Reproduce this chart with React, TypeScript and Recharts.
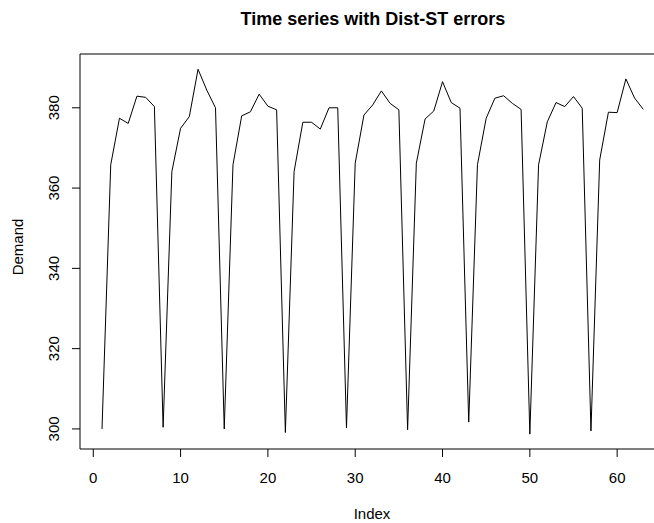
import { LineChart, Line, XAxis, YAxis, ReferenceArea } from 'recharts'

const demand = [
  300.0, 365.8, 377.4, 376.1, 382.9, 382.6, 380.3,
  300.4, 364.1, 374.9, 377.8, 389.6, 384.4, 380.0,
  300.0, 365.8, 378.0, 379.0, 383.4, 380.4, 379.5,
  299.1, 364.1, 376.4, 376.4, 374.7, 380.0, 380.0,
  300.3, 366.2, 378.2, 380.7, 384.2, 381.1, 379.5,
  299.8, 366.2, 377.2, 379.2, 386.5, 381.3, 379.9,
  301.7, 365.8, 377.4, 382.4, 383.0, 381.1, 379.6,
  298.7, 365.8, 376.5, 381.3, 380.3, 382.8, 379.9,
  299.5, 367.0, 378.9, 378.8, 387.2, 382.4, 379.6
]
const index = demand.map((_, i) => i + 1)
const xTicks = [0, 10, 20, 30, 40, 50, 60]
const yTicks = [300, 320, 340, 360, 380]

const data = index.map((idx, i) => ({ index: idx, demand: demand[i] }))

const FONT = "'Liberation Sans', Arial, sans-serif"
const X_DOMAIN: [number, number] = [-1.52, 65.48]
const Y_DOMAIN: [number, number] = [295, 393.4]

const YTick = ({ y, payload }: any) => (
  <text
    x={59}
    y={y}
    transform={`rotate(-90 59 ${y})`}
    textAnchor='middle'
    fontSize={15}
    fontFamily={FONT}
    fill='#000'
  >
    {payload.value}
  </text>
)

export default function App () {
  return (
    <div style={{ position: 'absolute', left: 0, top: 0, width: 654, height: 523, overflow: 'hidden', background: '#fff' }}>
      <LineChart
        width={666}
        height={523}
        data={data}
        margin={{ top: 54, right: 1, bottom: 0, left: 0 }}
      >
        <XAxis
          dataKey='index'
          type='number'
          domain={X_DOMAIN}
          ticks={xTicks}
          allowDataOverflow
          height={74}
          axisLine={false}
          tickSize={8}
          tickMargin={15}
          tickLine={{ stroke: '#000' }}
          tick={{ fontSize: 15, fontFamily: FONT, fill: '#000' }}
        />
        <YAxis
          type='number'
          domain={Y_DOMAIN}
          ticks={yTicks}
          allowDataOverflow
          width={80}
          axisLine={false}
          tickSize={8}
          tickLine={{ stroke: '#000' }}
          tick={<YTick />}
        />
        <ReferenceArea
          x1={X_DOMAIN[0]}
          x2={X_DOMAIN[1]}
          y1={Y_DOMAIN[0]}
          y2={Y_DOMAIN[1]}
          fill='none'
          stroke='#000'
          strokeWidth={1}
          ifOverflow='visible'
        />
        <Line
          type='linear'
          dataKey='demand'
          stroke='#000'
          strokeWidth={1}
          dot={false}
          isAnimationActive={false}
        />
      </LineChart>
      <svg width={654} height={523} style={{ position: 'absolute', left: 0, top: 0, pointerEvents: 'none' }}>
        <text x={373} y={25} textAnchor='middle' fontSize={18} fontWeight='bold' fontFamily={FONT} fill='#000'>
          Time series with Dist-ST errors
        </text>
        <text x={372} y={519} textAnchor='middle' fontSize={15} fontFamily={FONT} fill='#000'>
          Index
        </text>
        <text x={23} y={247} transform='rotate(-90 23 247)' textAnchor='middle' fontSize={15} fontFamily={FONT} fill='#000'>
          Demand
        </text>
      </svg>
    </div>
  )
}
